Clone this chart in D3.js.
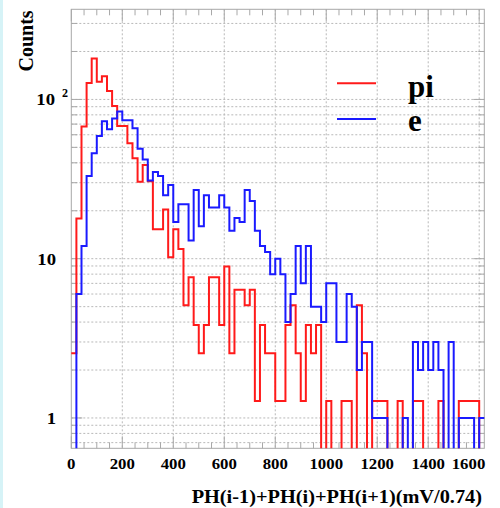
<!DOCTYPE html>
<html><head><meta charset="utf-8">
<script src="https://cdn.jsdelivr.net/npm/d3@7/dist/d3.min.js"></script>
<style>body{margin:0;background:#fff}svg{display:block}</style>
</head><body>
<svg id="c" width="500" height="508"></svg>
<script>
// ---- data ----
const binWidth = 20;           // bin width in mV/0.74 units
const xRange = [0, 1620];
const yRange = [0.645, 368];
const seriesNames = ["pi", "e"];
const piValues = [2.55,17.9,67.7,127,181,129,140,113,91,68,
  68,53,42.7,30.4,38.7,30.6,15.3,15.3,20.4,10.2,
  15.3,11.5,5.1,7.66,3.83,2.55,3.83,7.66,7.66,3.83,
  8.94,2.55,6.39,6.39,5.1,6.39,1.28,3.83,2.55,2.55,
  1.28,1.28,3.83,5.1,2.55,1.28,3.83,2.55,3.83,0,
  1.28,0,0,1.28,1.28,0,5.1,2.55,0,1.28,
  1.28,1.28,0,0,1.28,0,0,1.28,1.28,0,
  0,0,1.28,0,0,0,1.28,1.28,1.28,1.28,0];
const eValues = [0,6,12,33,46,59,73,65,76,84,
  74,74,66,49,42,31,35,33,25,29,
  17,22,22,13,27,16,25,21,21,25,
  21,15,18,17,27,23,15,12,11,8,
  10,8,4,6,12,7,12,5,5,4,
  7,7,3,3,6,5,2,3,3,1,
  1,1,0,0,0,1,0,3,2,3,
  2,3,2,0,3,0,1,1,1,0,1];
const xTickLabels = [0,200,400,600,800,1000,1200,1400,1600];
const yTickLabels = [{v:1,t:"1"},{v:10,t:"10"},{v:100,t:"10",sup:"2"}];
const xTitle = "PH(i-1)+PH(i)+PH(i+1)(mV/0.74)";
const yTitle = "Counts";

// ---- layout ----
const L = 71.3, R = 484.3, T = 9.3, B = 448.3;
const svg = d3.select("#c");
svg.append("rect").attr("x",0).attr("y",0).attr("width",3).attr("height",508).attr("fill","#d6f3f7");

const x = d3.scaleLinear().domain(xRange).range([L, R]);
const y = d3.scaleLog().domain(yRange).range([B, T]);
const gridCol = "#b8b8b8", frameCol = "#a8a8a8";

// horizontal grid on every log tick
const yMinor = [];
for (let dec = 0.1; dec <= 100; dec *= 10)
  for (let m = 1; m <= 9; m++) { const v = +(m*dec).toPrecision(3); if (v >= yRange[0] && v <= yRange[1]) yMinor.push(v); }
svg.append("g").selectAll("line").data(yMinor).join("line")
  .attr("x1",L).attr("x2",R).attr("y1",d=>y(d)).attr("y2",d=>y(d))
  .attr("stroke",gridCol).attr("stroke-width",1).attr("stroke-dasharray","2,2");
// vertical grid on major x ticks
svg.append("g").selectAll("line").data(xTickLabels.filter(d=>d>0)).join("line")
  .attr("x1",d=>x(d)).attr("x2",d=>x(d)).attr("y1",T).attr("y2",B)
  .attr("stroke",gridCol).attr("stroke-width",1).attr("stroke-dasharray","2,2");

// frame
svg.append("rect").attr("x",L).attr("y",T).attr("width",R-L).attr("height",B-T)
  .attr("fill","none").attr("stroke",frameCol).attr("stroke-width",1);

// x ticks (top & bottom, inside)
const xt = d3.range(0, 1601, 50);
const tk = svg.append("g").attr("stroke",frameCol).attr("stroke-width",1);
xt.forEach(d=>{
  const len = d % 200 === 0 ? 12 : 6;
  tk.append("line").attr("x1",x(d)).attr("x2",x(d)).attr("y1",B).attr("y2",B-len);
  tk.append("line").attr("x1",x(d)).attr("x2",x(d)).attr("y1",T).attr("y2",T+len);
});
yMinor.forEach(d=>{
  const major = Math.abs(Math.log10(d) - Math.round(Math.log10(d))) < 1e-6;
  const len = major ? 11 : 6;
  tk.append("line").attr("x1",R).attr("x2",R-len).attr("y1",y(d)).attr("y2",y(d));
  tk.append("line").attr("x1",L).attr("x2",L+len).attr("y1",y(d)).attr("y2",y(d));
});

// histograms
const clipId = "plotclip";
svg.append("clipPath").attr("id",clipId).append("rect").attr("x",L-1).attr("y",T).attr("width",R-L+2).attr("height",B-T);
function histPoints(vals){
  const pts = vals.map((v,i)=>[xRange[0]+i*binWidth, v]);
  pts.push([xRange[0]+vals.length*binWidth, vals[vals.length-1]]);
  return pts;
}
const line = d3.line().curve(d3.curveStepAfter)
  .x(d=>x(d[0])).y(d=> d[1] > 0 ? y(d[1]) : B + 4);
const hg = svg.append("g").attr("clip-path",`url(#${clipId})`);
hg.append("path").attr("d",line(histPoints(piValues))).attr("fill","none").attr("stroke","#ff1a1a").attr("stroke-width",2);
hg.append("path").attr("d",line(histPoints(eValues))).attr("fill","none").attr("stroke","#1a1aff").attr("stroke-width",2);

// axis labels
const font = "'Liberation Serif','Times New Roman',serif";
const xl = svg.append("g").attr("font-family",font).attr("font-weight","bold").attr("font-size",15).attr("fill","#000");
xTickLabels.forEach(d=>{
  const t = xl.append("text").attr("text-anchor","middle").text(d);
  const w = String(d).length * 7.5 * 1.12;
  const cx = Math.min(x(d), R + 1 - w/2);   // keep last label inside the frame edge
  t.attr("transform",`translate(${cx},469) scale(1.12,1)`);
});
const yl = svg.append("g").attr("font-family",font).attr("font-weight","bold").attr("font-size",17).attr("fill","#000");
yTickLabels.forEach(d=>{
  if (d.sup) {
    yl.append("text").attr("transform",`translate(55,${y(d.v)+6}) scale(1.1,1)`).attr("text-anchor","end").text(d.t);
    yl.append("text").attr("x",62).attr("y",y(d.v)-2).attr("font-size",12).text(d.sup);
  } else {
    yl.append("text").attr("transform",`translate(56,${y(d.v)+6}) scale(1.1,1)`).attr("text-anchor","end").text(d.t);
  }
});
svg.append("text").attr("transform","translate(482,503) scale(1.13,1)").attr("text-anchor","end")
  .attr("font-family",font).attr("font-weight","bold").attr("font-size",18).text(xTitle);
svg.append("text").attr("transform","translate(33,41) rotate(-90)").attr("text-anchor","middle")
  .attr("font-family",font).attr("font-weight","bold").attr("font-size",20).text(yTitle);

// legend
const leg = [{name:seriesNames[0],col:"#ff1a1a",ly:83.3,ty:97},{name:seriesNames[1],col:"#1a1aff",ly:119,ty:131}];
leg.forEach(d=>{
  svg.append("line").attr("x1",337).attr("x2",376).attr("y1",d.ly).attr("y2",d.ly).attr("stroke",d.col).attr("stroke-width",2);
  svg.append("text").attr("x",408).attr("y",d.ty).attr("font-family",font).attr("font-weight","bold").attr("font-size",31).text(d.name);
});
</script>
</body></html>
